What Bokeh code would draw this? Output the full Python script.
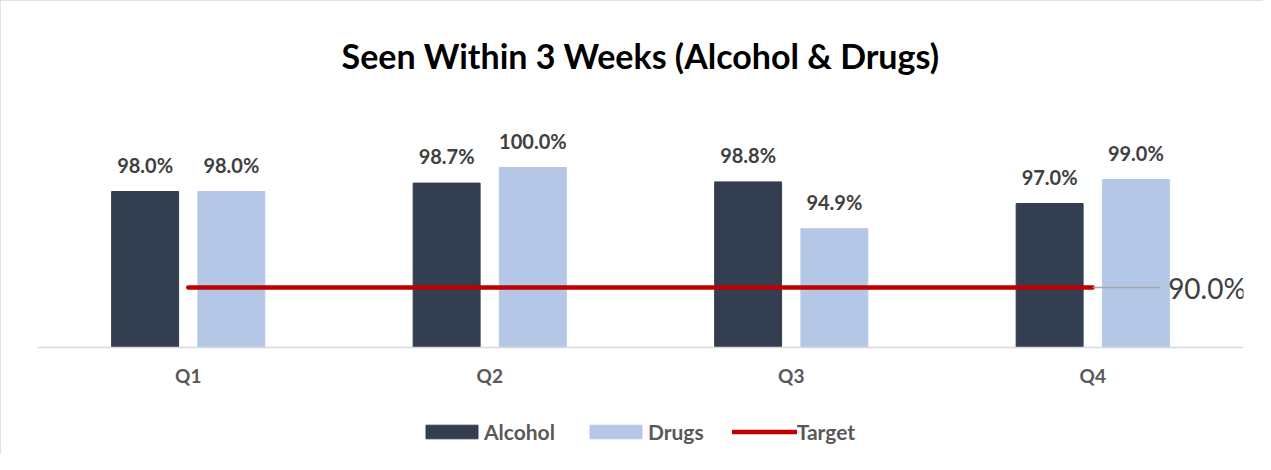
from bokeh.plotting import figure
from bokeh.models import ColumnDataSource, FactorRange, Range1d, Legend, LegendItem
from bokeh.transform import dodge
from bokeh.core.properties import value
from bokeh.embed import file_html
from bokeh.resources import INLINE

categories = ["Q1", "Q2", "Q3", "Q4"]
alcohol = [98.0, 98.7, 98.8, 97.0]
drugs = [98.0, 100.0, 94.9, 99.0]
target = [90.0, 90.0, 90.0, 90.0]
title_text = "Seen Within 3 Weeks (Alcohol & Drugs)"

FONT = "Lato"
C_ALC = "#333F50"
C_DRG = "#B4C7E7"
C_TGT = "#C00000"
C_TXT = "#404040"
C_LBL = "#595959"

BASE = 85.0
PX = 12.0  # pixels per percentage point

src = ColumnDataSource(dict(
    x=categories, alcohol=alcohol, drugs=drugs, target=target,
    alc_lbl=[f"{v:.1f}%" for v in alcohol],
    drg_lbl=[f"{v:.1f}%" for v in drugs],
))

p = figure(
    width=1263, height=454,
    x_range=FactorRange(factors=categories, range_padding=0),
    y_range=Range1d(BASE - 107 / PX, BASE + 247 / PX),
    output_backend="svg", toolbar_location=None,
    min_border_left=37, min_border_right=20,
    min_border_top=100, min_border_bottom=0,
    styles={"outline": "1px solid #D9D9D9", "outline-offset": "-1px"},
)
p.outline_line_color = None
p.grid.grid_line_color = None
p.yaxis.visible = False

p.title.text = title_text
p.title.align = "center"
p.title.offset = 5
p.title.text_font = FONT
p.title.text_font_size = "34px"
p.title.text_font_style = "bold"
p.title.text_color = "#000000"
p.title.standoff = 50

xa = p.xaxis[0]
xa.fixed_location = BASE
xa.axis_line_color = "#D9D9D9"
xa.axis_line_width = 1.5
xa.major_tick_line_color = None
xa.minor_tick_line_color = None
xa.major_label_standoff = 10
xa.major_label_text_font = FONT
xa.major_label_text_font_size = "19px"
xa.major_label_text_font_style = "bold"
xa.major_label_text_color = C_LBL

off = 0.143
bw = 0.222
r_alc = p.vbar(x=dodge("x", -off, range=p.x_range), top="alcohol", bottom=BASE, width=bw,
               color=C_ALC, source=src)
r_drg = p.vbar(x=dodge("x", off, range=p.x_range), top="drugs", bottom=BASE, width=bw,
               color=C_DRG, source=src)
r_tgt = p.line(x="x", y="target", line_color=C_TGT, line_width=4.5, line_cap="round", source=src)

p.text(x=dodge("x", -off, range=p.x_range), y="alcohol", text="alc_lbl", source=src,
       text_align="center", text_baseline="alphabetic", y_offset=-27,
       text_font=value(FONT), text_font_size="20px", text_font_style="bold", text_color=C_TXT)
p.text(x=dodge("x", off, range=p.x_range), y="drugs", text="drg_lbl", source=src,
       text_align="center", text_baseline="alphabetic", y_offset=-27,
       text_font=value(FONT), text_font_size="20px", text_font_style="bold", text_color=C_TXT)

tsrc = ColumnDataSource(dict(x=[categories[-1]], y=[target[-1]], lbl=[f"{target[-1]:.1f}%"]))
p.segment(x0=dodge("x", 0.0, range=p.x_range), y0="y", x1=dodge("x", 0.225, range=p.x_range), y1="y",
          line_color="#A6A6A6", line_width=1.5, source=tsrc)
p.text(x=dodge("x", 0.25, range=p.x_range), y="y", text="lbl", source=tsrc,
       text_align="left", text_baseline="middle",
       text_font=value(FONT), text_font_size="28px", text_font_style="normal", text_color=C_TXT)

legend = Legend(items=[
    LegendItem(label="Alcohol", renderers=[r_alc]),
    LegendItem(label="Drugs", renderers=[r_drg]),
    LegendItem(label="Target", renderers=[r_tgt]),
], orientation="horizontal", location=(382, 10))
legend.border_line_color = None
legend.background_fill_alpha = 0
legend.glyph_width = 65
legend.glyph_height = 17
legend.label_standoff = 0
legend.spacing = 28
legend.padding = 0
legend.margin = 0
legend.label_text_font = FONT
legend.label_text_font_size = "21px"
legend.label_text_font_style = "bold"
legend.label_text_color = C_LBL
p.add_layout(legend)

open("out.html", "w").write(file_html(p, INLINE))
